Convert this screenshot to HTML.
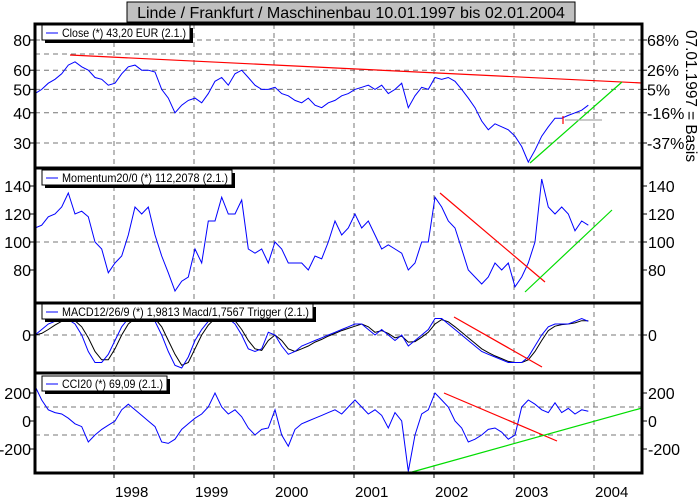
<!DOCTYPE html>
<html><head><meta charset="utf-8"><style>
body{margin:0;background:#fff;width:700px;height:500px;overflow:hidden}
svg{display:block;font-family:"Liberation Sans",sans-serif}
</style></head><body>
<svg id="c" width="700" height="500"></svg>
<script>
const closeVals=[48,50,53,55,58,63,65,62,60,56,55,52,
53,58,62,63,60,60,59,50,46,40,43,45,
46,44,48,54,56,52,58,60,56,52,50,50,
51,48,47,45,44,46,43,42,44,45,47,48,
50,51,52,50,52,48,50,53,42,47,51,50,
56,55,56,54,50,46,42,37,34,36,35,34,
32,29,25,28,32,35,38,38,39,40,41,43];
const momVals=[110,112,118,120,125,135,120,122,118,100,95,78,
85,90,105,125,120,125,105,90,78,65,72,75,
95,85,115,115,132,120,120,130,95,92,95,85,
100,95,85,85,85,80,90,88,100,115,105,110,
120,110,115,105,95,98,95,92,80,85,100,100,
132,125,115,110,95,80,75,70,75,85,80,85,
68,75,85,100,145,125,120,125,120,108,115,112];
const macdVals=[0,1,2,2.5,3,2.8,2,0,-3,-5,-5,-3.5,
-1,1.5,3,3.5,3.5,3,2.5,0,-3,-5.5,-6,-4,
-1,1,2.5,3.5,3.5,3,2,0,-2.5,-3,-2.5,0.5,
0,-2,-3.5,-3,-2,-1.5,-1,-0.5,0,0.5,1,1.5,
2,2,1,0,1,0,-1,0,-2,-1,0,1,
3,3,2,1,0,-1,-2,-3,-3.5,-4,-4.5,-5,
-5,-5,-4,-2,0,1.5,2,2,2,2.5,3,2.5];
const trigVals=[0,0.3,1,1.8,2.5,2.8,2.6,1.5,-0.5,-3,-4.5,-4.5,
-2.5,0,2,3,3.4,3.3,3,1.5,-1,-3.5,-5.5,-5,
-2.5,0,1.8,3,3.4,3.3,2.6,1,-1,-2.5,-2.8,-1,
0,-1,-2.5,-3,-2.5,-2,-1.3,-0.8,-0.2,0.3,0.8,1.2,
1.6,2,1.5,0.5,0.8,0.3,-0.5,-0.2,-1.3,-1.2,-0.4,0.5,
2,2.8,2.4,1.5,0.5,-0.5,-1.5,-2.5,-3.2,-3.8,-4.3,-4.8,
-5,-5,-4.5,-3,-1,0.8,1.6,1.9,2,2.2,2.6,2.6];
const cciVals=[250,150,80,60,50,20,-20,-40,-150,-100,-60,-30,
0,80,120,80,40,0,-40,-150,-160,-130,-60,-20,
20,50,100,200,100,50,80,30,-50,-100,-60,-50,
80,-100,-180,-60,-20,0,20,40,60,80,50,100,
150,100,50,80,40,-50,60,0,-360,-100,50,80,
200,150,100,0,-50,-150,-130,-100,-60,-50,-80,-130,
-100,100,150,120,80,60,130,60,90,50,80,69];
const years=["1998","1999","2000","2001","2002","2003","2004"];

const S=document.getElementById('c');const NS="http://www.w3.org/2000/svg";
function el(t,a,p){const e=document.createElementNS(NS,t);for(const k in a)e.setAttribute(k,a[k]);(p||S).appendChild(e);return e;}
function X(t){return 35+t*80/12;}
const yClose=v=>40+105*Math.log(80/v);
const yMom=v=>242-(v-100)*1.4;
const yMacd=v=>335-v*5.5;
const yCci=v=>421-v*0.14;
const L=35,R=642;
const panels=[[24,168],[168,303],[303,373],[373,473]];
const g=el('g',{});
for(let i=0;i<7;i++){const x=114+80*i;el('line',{x1:x,x2:x,y1:24,y2:473,stroke:'#777','stroke-dasharray':'5,4'},g);}
function hgrid(y){el('line',{x1:L,x2:R,y1:y,y2:y,stroke:'#777','stroke-dasharray':'5,4'},g);}
[80,60,50,40,30].forEach(v=>hgrid(yClose(v)));hgrid(yClose(70));
hgrid(yMom(100));hgrid(yMacd(0));hgrid(yCci(100));hgrid(yCci(-100));
function series(vals,fy,color,name){const p=vals.map((v,i)=>(i?'L':'M')+X(i).toFixed(1)+','+fy(v).toFixed(1)).join('');const e=el('path',{d:p,fill:'none',stroke:color,'stroke-width':1});}
function line(x1,y1,x2,y2,c,n){const e=el('line',{x1,y1,x2,y2,stroke:c,'stroke-width':1.2});}
series(closeVals,yClose,'#0000ff','close-line');
series(momVals,yMom,'#0000ff','momentum-line');
series(trigVals,yMacd,'#000','macd-trigger-line');
series(macdVals,yMacd,'#0000ff','macd-line');
series(cciVals,yCci,'#0000ff','cci-line');
line(70,55,642,83,'#ff0000','close-resistance-trend');
line(530,163,622,82,'#00dd00','close-support-trend');
line(565,120,602,120,'#aaaaaa','close-marker-line');
line(563,116,563,124,'#ff0000','close-marker');
line(440,193,545,282,'#ff0000','momentum-down-trend');
line(525,292,612,210,'#00dd00','momentum-up-trend');
line(454,317,542,367,'#ff0000','macd-down-trend');
line(444,393,557,441,'#ff0000','cci-down-trend');
line(412,472,642,408,'#00dd00','cci-up-trend');
panels.forEach((p,i)=>{const e=el('rect',{x:L,y:p[0],width:R-L,height:p[1]-p[0],fill:'none',stroke:'#000','stroke-width':3});});
function lab(x,y,t,anchor,n,size){const e=el('text',{x,y,'font-size':size||16,'text-anchor':anchor||'end',fill:'#000'});e.textContent=t;return e;}
function ytick(y,side){const x=side?R:L;el('line',{x1:side?x:x-5,x2:side?x+5:x,y1:y,y2:y,stroke:'#000'});}
[[80,'80'],[60,'60'],[50,'50'],[40,'40'],[30,'30']].forEach(a=>{const y=yClose(a[0]);ytick(y);lab(31,y+6,a[1],'end','close-y-tick');});
[['68%',80],['26%',60],['5%',50],['-16%',40],['-37%',30]].forEach(a=>{const y=yClose(a[1]);ytick(y,1);lab(647,y+6,a[0],'start','percent-y-tick');});
[140,120,100,80].forEach(v=>{const y=yMom(v);ytick(y);ytick(y,1);lab(31,y+6,v,'end','momentum-y-tick');lab(648,y+6,v,'start','momentum-y-tick-right');});
ytick(335);ytick(335,1);lab(31,341,'0','end','macd-y-tick');lab(648,341,'0','start','macd-y-tick-right');
[200,0,-200].forEach(v=>{const y=yCci(v);ytick(y);ytick(y,1);lab(31,y+6,v,'end','cci-y-tick');lab(648,y+6,v,'start','cci-y-tick-right');});
years.forEach((t,i)=>{const x=114+80*i;el('line',{x1:x,x2:x,y1:473,y2:478,stroke:'#000'});lab(x+1,497,t,'start','x-tick-year',15);});
const rt=lab(0,0,'07.01.1997 = Basis','middle','right-axis-title',16);rt.setAttribute('transform','translate(686,96) rotate(90)');rt.setAttribute('textLength','132');rt.setAttribute('lengthAdjust','spacingAndGlyphs');
function legend(x,y,w,txt,n){const gg=el('g',{});el('rect',{x:x+3,y:y+3,width:w,height:15,fill:'#000'},gg);el('rect',{x,y,width:w,height:15,fill:'#fff',stroke:'#000'},gg);el('line',{x1:x+4,x2:x+16,y1:y+8,y2:y+8,stroke:'#00f'},gg);const t=el('text',{x:x+20,y:y+12,'font-size':12,textLength:w-24,lengthAdjust:'spacingAndGlyphs'},gg);t.textContent=txt;}
legend(42,25,148,'Close (*) 43,20 EUR (2.1.)','close-legend');
legend(42,170,190,'Momentum20/0 (*) 112,2078 (2.1.)','momentum-legend');
legend(42,304,271,'MACD12/26/9 (*) 1,9813 Macd/1,7567 Trigger (2.1.)','macd-legend');
legend(42,376,125,'CCI20 (*) 69,09 (2.1.)','cci-legend');
const tg=el('g',{});
el('rect',{x:127,y:2,width:448,height:20,fill:'#c0c0c0',stroke:'#000'},tg);
const tt=el('text',{x:351,y:18,'font-size':16,'text-anchor':'middle'},tg);tt.textContent='Linde / Frankfurt / Maschinenbau 10.01.1997 bis 02.01.2004';
</script>
</body></html>
